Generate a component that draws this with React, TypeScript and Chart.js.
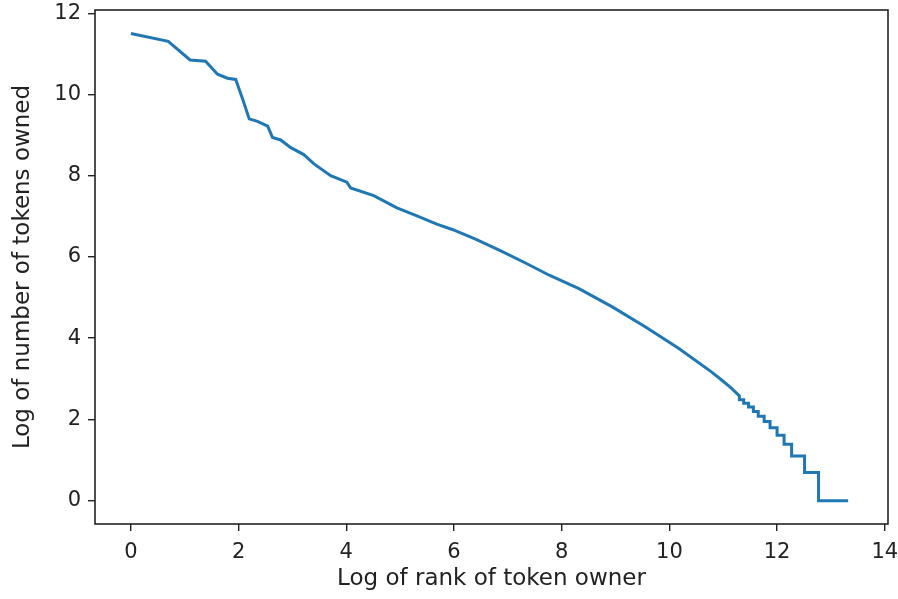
import React, { useEffect, useRef } from "react";
import { Chart, registerables } from "chart.js";

Chart.register(...registerables);

// Log of rank of token owner (x) and log of number of tokens owned (y)
const rankLog: number[] = [
  0, 0.693, 1.099, 1.386, 1.609, 1.792, 1.946, 2.079, 2.197, 2.35, 2.54, 2.63,
  2.78, 2.97, 3.21, 3.4, 3.71, 4.01, 4.08, 4.51, 4.94, 5.3, 5.68, 5.98, 6.4,
  6.85, 7.3, 7.77, 8.32, 8.94, 9.55, 10.17, 10.78, 10.97, 11.15, 11.3,
  11.3, 11.38, 11.38, 11.47, 11.47, 11.56, 11.56, 11.65, 11.65, 11.76, 11.76,
  11.87, 11.87, 12.0, 12.0, 12.13, 12.13, 12.27, 12.27, 12.51, 12.51, 12.77,
  12.77, 13.32,
];
const countLog: number[] = [
  11.5, 11.31, 10.85, 10.82, 10.5, 10.4, 10.37, 9.87, 9.4, 9.34, 9.22, 8.94,
  8.88, 8.69, 8.52, 8.29, 8.0, 7.84, 7.7, 7.51, 7.21, 7.02, 6.81, 6.67, 6.44,
  6.16, 5.87, 5.55, 5.22, 4.77, 4.28, 3.75, 3.17, 2.97, 2.77, 2.58,
  2.485, 2.485, 2.398, 2.398, 2.303, 2.303, 2.197, 2.197, 2.079, 2.079, 1.946,
  1.946, 1.792, 1.792, 1.609, 1.609, 1.386, 1.386, 1.099, 1.099, 0.693, 0.693,
  0, 0,
];
const xTickValues: number[] = [0, 2, 4, 6, 8, 10, 12, 14];
const yTickValues: number[] = [0, 2, 4, 6, 8, 10, 12];
const xTitle = "Log of rank of token owner";
const yTitle = "Log of number of tokens owned";

const FONT = "'DejaVu Sans', sans-serif";

const framePlugin = {
  id: "frame",
  afterDraw(chart: any) {
    const { ctx, chartArea } = chart;
    ctx.save();
    ctx.strokeStyle = "#222";
    ctx.lineWidth = 1.6;
    ctx.strokeRect(
      chartArea.left,
      chartArea.top,
      chartArea.right - chartArea.left,
      chartArea.bottom - chartArea.top
    );
    ctx.restore();
  },
};

export default function App() {
  const ref = useRef<HTMLCanvasElement | null>(null);

  useEffect(() => {
    if (!ref.current) return;
    const points = rankLog.map((x, i) => ({ x, y: countLog[i] }));
    const chart = new Chart(ref.current, {
      type: "scatter",
      data: {
        datasets: [
          {
            data: points,
            showLine: true,
            borderColor: "#1f77b4",
            borderWidth: 3,
            pointRadius: 0,
            fill: false,
            tension: 0,
          },
        ],
      },
      options: {
        responsive: false,
        animation: false,
        events: [],
        layout: { padding: { left: 0, right: 10, top: 10, bottom: 0 } },
        plugins: { legend: { display: false }, tooltip: { enabled: false } },
        scales: {
          x: {
            type: "linear",
            min: -0.667,
            max: 14.06,
            afterFit: (s: any) => {
              s.height = 75;
              s.paddingLeft = 0;
              s.paddingRight = 0;
            },
            afterBuildTicks: (s: any) => {
              s.ticks = xTickValues.map((v) => ({ value: v }));
            },
            border: { display: false },
            grid: {
              drawOnChartArea: false,
              drawTicks: true,
              tickLength: 7,
              color: "#222",
              lineWidth: 1.4,
            },
            ticks: {
              padding: 9,
              color: "#222",
              font: { family: FONT, size: 21 },
              maxRotation: 0,
              autoSkip: false,
            },
            title: {
              display: true,
              text: xTitle,
              color: "#222",
              font: { family: FONT, size: 23 },
              padding: { top: 0, bottom: 6 },
            },
          },
          y: {
            type: "linear",
            min: -0.575,
            max: 12.08,
            afterFit: (s: any) => {
              s.width = 95;
              s.paddingTop = 0;
              s.paddingBottom = 0;
            },
            afterBuildTicks: (s: any) => {
              s.ticks = yTickValues.map((v) => ({ value: v }));
            },
            border: { display: false },
            grid: {
              drawOnChartArea: false,
              drawTicks: true,
              tickLength: 7,
              color: "#222",
              lineWidth: 1.4,
            },
            ticks: {
              padding: 7,
              color: "#222",
              font: { family: FONT, size: 21 },
              autoSkip: false,
            },
            title: {
              display: true,
              text: yTitle,
              color: "#222",
              font: { family: FONT, size: 23 },
              padding: { top: 9, bottom: 0 },
            },
          },
        },
      },
      plugins: [framePlugin],
    });
    return () => chart.destroy();
  }, []);

  return (
    <div style={{ position: "fixed", left: 0, top: 0, width: 898, height: 599, background: "#fff" }}>
      <canvas ref={ref} width={898} height={599} style={{ display: "block" }} />
    </div>
  );
}
